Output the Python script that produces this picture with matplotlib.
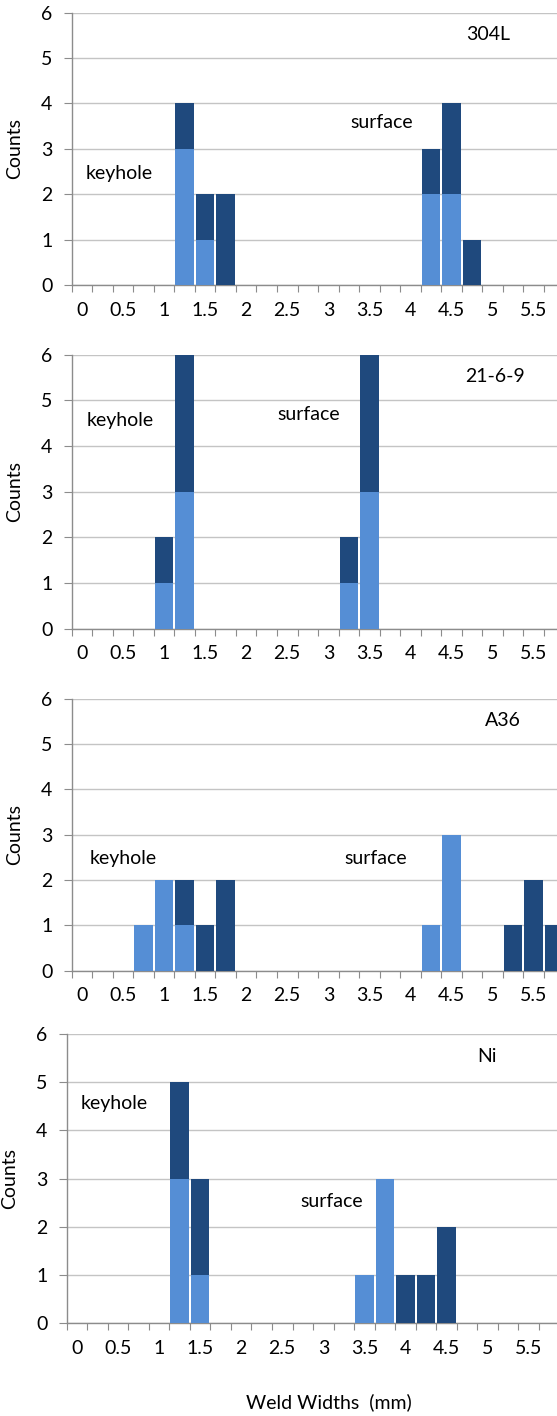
import numpy as np
import matplotlib
matplotlib.use('Agg')
import matplotlib.pyplot as plt

plt.rcParams['font.family'] = ['Lato', 'DejaVu Sans']

# width bins (mm), one bar slot per bin
bins = np.arange(0, 6.0, 0.25)
tick_labels = ['0', '0.5', '1', '1.5', '2', '2.5', '3', '3.5', '4', '4.5', '5', '5.5']

# counts per bin: light series at the bottom, dark series stacked on top
light_304l = [0, 0, 0, 0, 0, 3, 1, 0, 0, 0, 0, 0, 0, 0, 0, 0, 0, 2, 2, 0, 0, 0, 0, 0]
dark_304l = [0, 0, 0, 0, 0, 1, 1, 2, 0, 0, 0, 0, 0, 0, 0, 0, 0, 1, 2, 1, 0, 0, 0, 0]

light_2169 = [0, 0, 0, 0, 1, 3, 0, 0, 0, 0, 0, 0, 0, 1, 3, 0, 0, 0, 0, 0, 0, 0, 0, 0]
dark_2169 = [0, 0, 0, 0, 1, 3, 0, 0, 0, 0, 0, 0, 0, 1, 3, 0, 0, 0, 0, 0, 0, 0, 0, 0]

light_a36 = [0, 0, 0, 1, 2, 1, 0, 0, 0, 0, 0, 0, 0, 0, 0, 0, 0, 1, 3, 0, 0, 0, 0, 0]
dark_a36 = [0, 0, 0, 0, 0, 1, 1, 2, 0, 0, 0, 0, 0, 0, 0, 0, 0, 0, 0, 0, 0, 1, 2, 1]

light_ni = [0, 0, 0, 0, 0, 3, 1, 0, 0, 0, 0, 0, 0, 0, 1, 3, 0, 0, 0, 0, 0, 0, 0, 0]
dark_ni = [0, 0, 0, 0, 0, 2, 2, 0, 0, 0, 0, 0, 0, 0, 0, 0, 1, 1, 2, 0, 0, 0, 0, 0]

light = '#558ED5'
dark = '#1F497D'
axis_gray = '#8C8C8C'
grid_gray = '#C4C4C4'

W, H = 557, 1416
fig = plt.figure(figsize=(W / 100, H / 100), dpi=100)

# (name, light, dark, left px, top px, bottom px, label pos, keyhole pos, surface pos)
panels = [
    ('304L', light_304l, dark_304l, 71.7, 12.7, 285.0, (19.8, 5.52), (1.8, 2.45), (14.6, 3.58)),
    ('21-6-9', light_2169, dark_2169, 71.7, 354.7, 628.7, (20.1, 5.52), (1.85, 4.57), (11.05, 4.68)),
    ('A36', light_a36, dark_a36, 71.7, 698.5, 970.8, (20.5, 5.52), (2.0, 2.47), (14.3, 2.47)),
    ('Ni', light_ni, dark_ni, 66.7, 1034.0, 1323.3, (19.95, 5.54), (1.8, 4.55), (12.4, 2.52)),
]

cat_px = 20.53
fs = 14
x = np.arange(len(bins))

for name, lo, hi, left, top, bottom, lab, kh, sf in panels:
    ax = fig.add_axes([left / W, 1 - bottom / H, 1 - left / W, (bottom - top) / H])
    ax.bar(x, lo, width=0.91, color=light, zorder=3)
    ax.bar(x, hi, width=0.91, bottom=lo, color=dark, zorder=3)

    # tick marks on bin edges, labels on every other bin centre
    ax.set_xticks(np.arange(-0.5, len(bins) + 1.5, 1.0))
    ax.set_xticklabels([])
    ax.set_xticks(x[::2], minor=True)
    ax.set_xticklabels(tick_labels, minor=True)
    ax.tick_params(axis='x', which='major', length=5, color=axis_gray, direction='out')
    ax.tick_params(axis='x', which='minor', length=0, pad=12, labelsize=fs)
    ax.tick_params(axis='y', length=6, color=axis_gray, labelsize=fs, pad=8)

    # the plot area runs off the right edge of the figure
    ax.set_xlim(-0.5, -0.5 + (W - left) / cat_px)
    ax.set_ylim(0, 6)
    ax.set_yticks(range(0, 7))
    ax.grid(axis='y', color=grid_gray, linewidth=1.0, zorder=0)

    for s in ['top', 'right']:
        ax.spines[s].set_visible(False)
    for s in ['left', 'bottom']:
        ax.spines[s].set_color(axis_gray)
        ax.spines[s].set_linewidth(1.0)

    ax.set_ylabel('Counts', fontsize=fs)
    ax.yaxis.set_label_coords(-0.0997, 0.5)

    ax.text(lab[0], lab[1], name, fontsize=fs, ha='center', va='center')
    ax.text(kh[0], kh[1], 'keyhole', fontsize=fs, ha='center', va='center')
    ax.text(sf[0], sf[1], 'surface', fontsize=fs, ha='center', va='center')

fig.text(329 / W, 1 - 1402 / H, 'Weld Widths  (mm)', fontsize=fs, ha='center', va='center')

fig.savefig('out.png', dpi=100)
